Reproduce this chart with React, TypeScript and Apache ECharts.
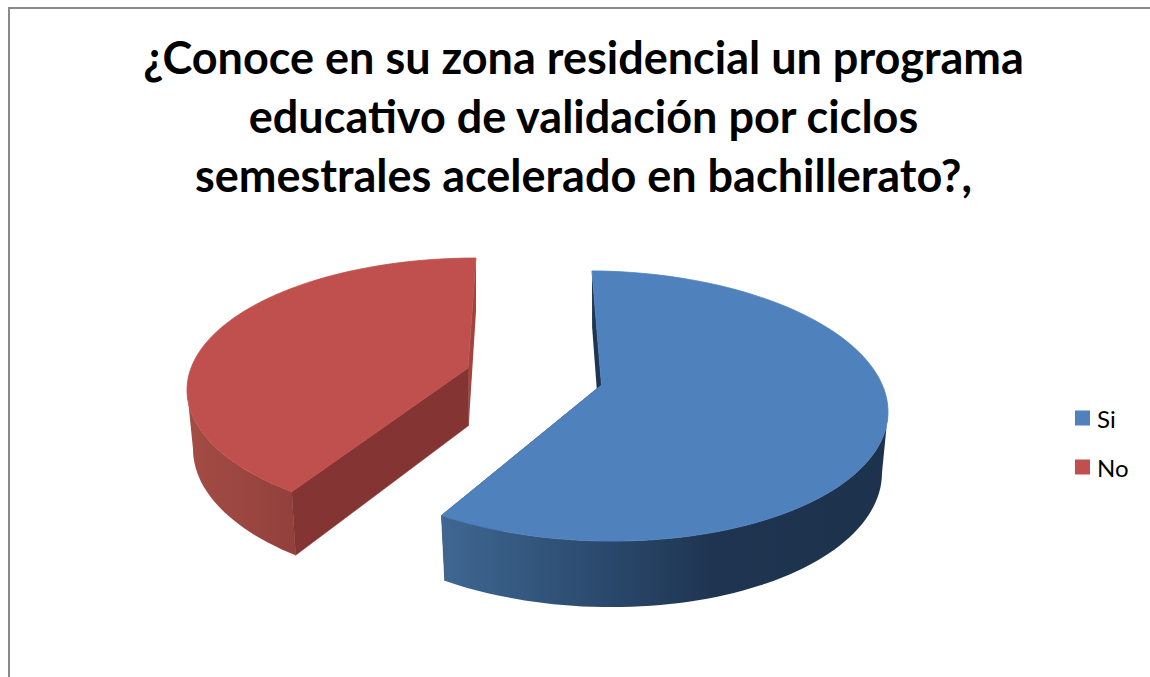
import React, { useEffect, useRef } from "react";
import * as echarts from "echarts";

const titleLines = [
  "¿Conoce en su zona residencial un programa",
  "educativo de validación por ciclos",
  "semestrales acelerado en bachillerato?,",
];
const categories = ["Si", "No"];
const values = [59, 41];
const colors = ["#4F81BD", "#C0504D"];

const total = values.reduce((a, b) => a + b, 0);

// Projection of each exploded slice of the tilted pie.
const projections = [
  {
    top: { cx: 600, cy: 406, rx: 288, ry: 135 },
    bottom: { cx: 600, cy: 467, rx: 282, ry: 140 },
    tilt: 0.02,
    apex: [601.5, 385],
    apexDepth: [-0.5, 61],
    startShift: -1.6,
    endShift: 1,
    sideFrom: 90,
    sideTo: null as number | null,
    sideGradient: [443, 885],
    sideStops: [
      { offset: 0, color: "#3F6792" },
      { offset: 0.35, color: "#2B4A6E" },
      { offset: 0.62, color: "#1E3450" },
      { offset: 1, color: "#1D324D" },
    ],
    cutColor: "#1F3552",
    backColor: "#1F3552",
  },
  {
    top: { cx: 476, cy: 390, rx: 289, ry: 132 },
    bottom: { cx: 476, cy: 449, rx: 283, ry: 138 },
    tilt: 0,
    apex: [468, 368],
    apexDepth: [0.7, 57.5],
    startShift: 7.2,
    endShift: 0,
    sideFrom: null as number | null,
    sideTo: 270,
    sideGradient: [187, 298],
    sideStops: [
      { offset: 0, color: "#A44C45" },
      { offset: 1, color: "#92403C" },
    ],
    cutColor: "#843533",
    backColor: "#A3433F",
  },
];

function rim(e: any, tilt: number, deg: number): number[] {
  const t = (deg * Math.PI) / 180;
  const dx = e.rx * Math.sin(t);
  return [e.cx + dx, e.cy - e.ry * Math.cos(t) + tilt * dx];
}

function arcPoints(e: any, tilt: number, from: number, to: number): number[][] {
  const n = Math.max(2, Math.ceil(Math.abs(to - from) / 2));
  const pts: number[][] = [];
  for (let i = 0; i <= n; i++) pts.push(rim(e, tilt, from + ((to - from) * i) / n));
  return pts;
}

function makeRender(index: number) {
  return (_params: any, api: any) => {
    const p = projections[index];
    const before = values.slice(0, index).reduce((a, b) => a + b, 0);
    const value = api.value(0);
    const a0 = (before / total) * 360 + p.startShift;
    const a1 = ((before + value) / total) * 360 + p.endShift;
    const apexB = [p.apex[0] + p.apexDepth[0], p.apex[1] + p.apexDepth[1]];
    const topArc = arcPoints(p.top, p.tilt, a0, a1);
    const color = colors[index];

    // Blue: the outer wall runs from the right side to the slice's end. Red: from its start to the left side.
    const sideFrom = p.sideFrom ?? a0;
    const sideTo = p.sideTo ?? a1;
    const side = [
      ...arcPoints(p.top, p.tilt, sideFrom, sideTo),
      ...arcPoints(p.bottom, p.tilt, sideTo, sideFrom),
    ];

    // Wall of the leading cut (the one facing the viewer) and of the far cut.
    const frontA = index === 0 ? a1 : a0;
    const backA = index === 0 ? a0 : a1;
    const front = [rim(p.top, p.tilt, frontA), p.apex, apexB, rim(p.bottom, p.tilt, frontA)];
    const back = [rim(p.top, p.tilt, backA), rim(p.bottom, p.tilt, backA), apexB, p.apex];

    const fill = new echarts.graphic.LinearGradient(
      p.sideGradient[0], 0, p.sideGradient[1], 0, p.sideStops, true
    );
    const sideEl = { type: "polygon", shape: { points: side }, style: { fill } };
    const frontEl = {
      type: "polygon",
      shape: { points: front },
      style: { fill: p.cutColor, stroke: p.cutColor, lineWidth: 0.5 },
    };
    return {
      type: "group",
      silent: true,
      children: [
        { type: "polygon", shape: { points: back }, style: { fill: p.backColor } },
        // Blue's cut faces away from the viewer, so its outer wall covers it; red's cut faces the viewer.
        ...(index === 0 ? [frontEl, sideEl] : [sideEl, frontEl]),
        {
          type: "polygon",
          shape: { points: [p.apex, ...topArc] },
          style: { fill: color, stroke: color, lineWidth: 0.8 },
        },
      ],
    };
  };
}

export default function App() {
  const ref = useRef<HTMLDivElement>(null);
  useEffect(() => {
    const chart = echarts.init(ref.current!, undefined, { renderer: "svg" });
    chart.setOption({
      animation: false,
      backgroundColor: "#FFFFFF",
      color: colors,
      title: {
        text: titleLines.join("\n"),
        left: 583.5,
        top: 28,
        padding: 0,
        textAlign: "center",
        textStyle: {
          fontFamily: "Lato",
          fontWeight: "bold",
          fontSize: 45,
          lineHeight: 58.7,
          color: "#000000",
        },
      },
      legend: {
        orient: "vertical",
        left: 1075,
        top: 406,
        padding: 0,
        itemWidth: 15,
        itemHeight: 15,
        itemGap: 25,
        icon: "rect",
        selectedMode: false,
        data: categories,
        textStyle: { fontFamily: "Lato", fontSize: 24, color: "#000000", padding: [0, 0, 4, 2] },
      },
      graphic: [
        {
          type: "polyline",
          silent: true,
          shape: { points: [[9, 677], [9, 8], [1150, 8]] },
          style: { stroke: "#8A8A8A", lineWidth: 2, fill: "none" },
        },
      ],
      series: categories.map((name, i) => ({
        type: "custom",
        name,
        coordinateSystem: "none",
        itemStyle: { color: colors[i] },
        data: [[values[i]]],
        renderItem: makeRender(i),
      })),
    });
    return () => chart.dispose();
  }, []);
  return <div ref={ref} style={{ position: "fixed", left: 0, top: 0, width: 1150, height: 677 }} />;
}
